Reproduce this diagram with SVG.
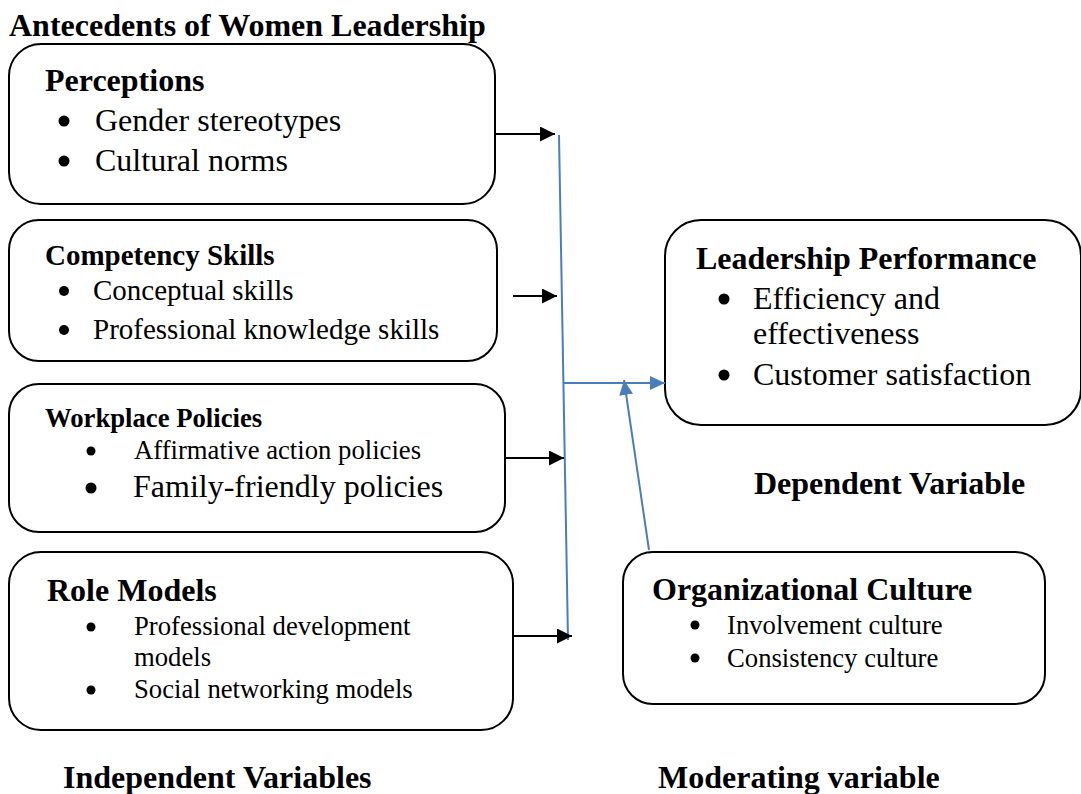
<svg xmlns="http://www.w3.org/2000/svg" width="1081" height="794" viewBox="0 0 1081 794">
<style>
  text { font-family: "Liberation Serif", "Times New Roman", serif; fill: #000; }
  .b { font-weight: bold; }
  .t32 { font-size: 32px; }
  .t29 { font-size: 29px; }
  .t27 { font-size: 26.7px; }
  .dot { fill: #000; }
  .box { fill: #fff; stroke: #000; stroke-width: 2; }
  .blk { stroke: #000; stroke-width: 2; fill: none; }
  .blu { stroke: #4a7ebb; stroke-width: 2; fill: none; }
</style>
<defs>
  <marker id="ah" viewBox="0 0 10 10" refX="10" refY="5" markerWidth="7.5" markerHeight="7.5" orient="auto" markerUnits="strokeWidth">
    <path d="M0,0 L10,5 L0,10 z" fill="#000"/>
  </marker>
  <marker id="ahb" viewBox="0 0 10 10" refX="10" refY="5" markerWidth="7.5" markerHeight="7" orient="auto" markerUnits="strokeWidth" preserveAspectRatio="none">
    <path d="M0,0 L10,5 L0,10 z" fill="#4a7ebb"/>
  </marker>
</defs>
<rect width="1081" height="794" fill="#fff"/>

<text class="b t32" x="9" y="36">Antecedents of Women Leadership</text>

<g id="perceptions">
  <rect class="box" x="9" y="44" width="486" height="160" rx="32"/>
  <text class="b t32" x="45" y="91">Perceptions</text>
  <circle class="dot" cx="64" cy="121" r="5.5"/>
  <text class="t32" x="95" y="131">Gender stereotypes</text>
  <circle class="dot" cx="64" cy="161" r="5.5"/>
  <text class="t32" x="95" y="171">Cultural norms</text>
</g>

<g id="competency">
  <rect class="box" x="9" y="220" width="488" height="141" rx="30"/>
  <text class="b t29" x="45" y="265">Competency Skills</text>
  <circle class="dot" cx="64" cy="291" r="5"/>
  <text class="t29" x="93" y="300">Conceptual skills</text>
  <circle class="dot" cx="64" cy="330" r="5"/>
  <text class="t29" x="93" y="339">Professional knowledge skills</text>
</g>

<g id="policies">
  <rect class="box" x="9" y="384" width="496" height="148" rx="30"/>
  <text class="b t27" x="45" y="427">Workplace Policies</text>
  <circle class="dot" cx="91" cy="451" r="4.5"/>
  <text class="t27" x="134" y="459">Affirmative action policies</text>
  <circle class="dot" cx="91" cy="488" r="5.5"/>
  <text class="t32" x="133" y="497">Family-friendly policies</text>
</g>

<g id="role-models">
  <rect class="box" x="9" y="552" width="504" height="178" rx="32"/>
  <text class="b t32" x="47" y="601">Role Models</text>
  <circle class="dot" cx="91" cy="627" r="4.5"/>
  <text class="t27" x="134" y="635">Professional development</text>
  <text class="t27" x="134" y="666">models</text>
  <circle class="dot" cx="91" cy="690" r="4.5"/>
  <text class="t27" x="134" y="698">Social networking models</text>
</g>

<g id="leadership-performance">
  <rect class="box" x="665" y="220" width="416" height="205" rx="36"/>
  <text class="b t32" x="696" y="269">Leadership Performance</text>
  <circle class="dot" cx="724" cy="299" r="5.5"/>
  <text class="t32" x="753" y="309">Efficiency and</text>
  <text class="t32" x="753" y="344">effectiveness</text>
  <circle class="dot" cx="724" cy="375" r="5.5"/>
  <text class="t32" x="753" y="385">Customer satisfaction</text>
</g>

<text class="b t32" x="754" y="494">Dependent Variable</text>

<g id="organizational-culture">
  <rect class="box" x="623" y="552" width="422" height="152" rx="30"/>
  <text class="b t32" x="652" y="600">Organizational Culture</text>
  <circle class="dot" cx="695" cy="625" r="4.5"/>
  <text class="t27" x="727" y="634">Involvement culture</text>
  <circle class="dot" cx="695" cy="658" r="4.5"/>
  <text class="t27" x="727" y="667">Consistency culture</text>
</g>

<text class="b t32" x="63" y="788">Independent Variables</text>
<text class="b t32" x="658" y="788">Moderating variable</text>

<g id="connectors">
  <line class="blu" x1="559" y1="135" x2="568" y2="640"/>
  <line class="blk" x1="495" y1="134" x2="555" y2="134" marker-end="url(#ah)"/>
  <line class="blk" x1="513" y1="296" x2="557" y2="296" marker-end="url(#ah)"/>
  <line class="blk" x1="505" y1="458" x2="564" y2="458" marker-end="url(#ah)"/>
  <line class="blk" x1="513" y1="636" x2="572" y2="636" marker-end="url(#ah)"/>
  <line class="blu" x1="563" y1="383" x2="665" y2="383" marker-end="url(#ahb)"/>
  <line class="blu" x1="649" y1="550" x2="624" y2="380" marker-end="url(#ahb)"/>
</g>
</svg>
